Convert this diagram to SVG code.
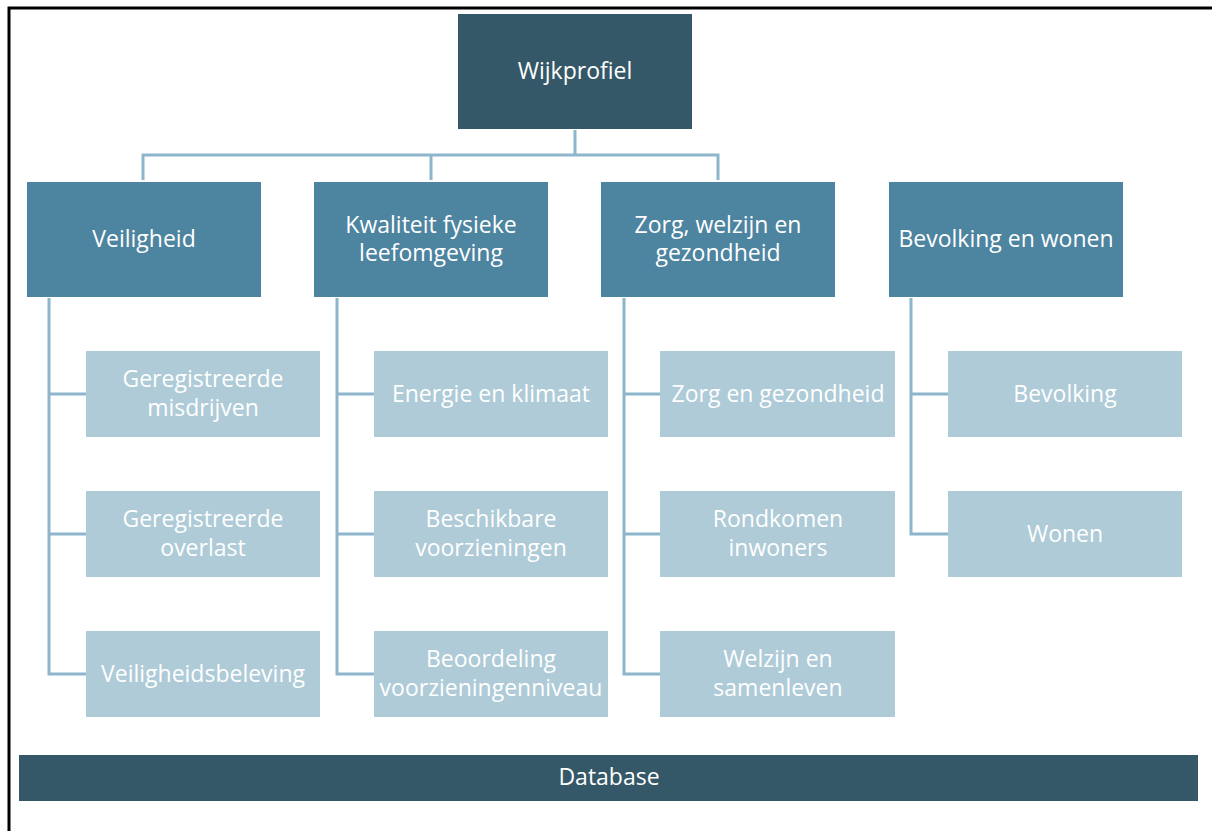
<svg xmlns="http://www.w3.org/2000/svg" width="1212" height="831" viewBox="0 0 1212 831">
<style>
text{font-family:"Open Sans","Liberation Sans",sans-serif;font-size:23px;fill:#fff;text-anchor:middle}
.top{fill:#345868}
.l2{fill:#4D84A0}
.l3{fill:#AECBD7}
.c{fill:none;stroke:#8DB5CB;stroke-width:3}
</style>
<rect width="1212" height="831" fill="#fff"/>
<path d="M9 831V8H1212" fill="none" stroke="#000" stroke-width="3"/>
<g id="connectors" class="c">
<path d="M575 130V155M143 180V155H718V180M431 155V180"/>
<path d="M49 298V674H86M49 394H86M49 534H86"/>
<path d="M337 298V674H374M337 394H374M337 534H374"/>
<path d="M624 298V674H660M624 394H660M624 534H660"/>
<path d="M911 298V534H948M911 394H948"/>
</g>
<g id="wijkprofiel"><rect class="top" x="458" y="14" width="234" height="115"/><text x="575" y="79">Wijkprofiel</text></g>
<g id="veiligheid"><rect class="l2" x="27" y="182" width="234" height="115"/><text x="144" y="247">Veiligheid</text></g>
<g id="kwaliteit"><rect class="l2" x="314" y="182" width="234" height="115"/><text x="431" y="233">Kwaliteit fysieke</text><text x="431" y="261">leefomgeving</text></g>
<g id="zorg"><rect class="l2" x="601" y="182" width="234" height="115"/><text x="718" y="233">Zorg, welzijn en</text><text x="718" y="261">gezondheid</text></g>
<g id="bevolking-wonen"><rect class="l2" x="889" y="182" width="234" height="115"/><text x="1006" y="247">Bevolking en wonen</text></g>
<g id="misdrijven"><rect class="l3" x="86" y="351" width="234" height="86"/><text x="203" y="387">Geregistreerde</text><text x="203" y="416">misdrijven</text></g>
<g id="overlast"><rect class="l3" x="86" y="491" width="234" height="86"/><text x="203" y="527">Geregistreerde</text><text x="203" y="556">overlast</text></g>
<g id="veiligheidsbeleving"><rect class="l3" x="86" y="631" width="234" height="86"/><text x="203" y="682">Veiligheidsbeleving</text></g>
<g id="energie"><rect class="l3" x="374" y="351" width="234" height="86"/><text x="491" y="402">Energie en klimaat</text></g>
<g id="voorzieningen"><rect class="l3" x="374" y="491" width="234" height="86"/><text x="491" y="527">Beschikbare</text><text x="491" y="556">voorzieningen</text></g>
<g id="beoordeling"><rect class="l3" x="374" y="631" width="234" height="86"/><text x="491" y="667">Beoordeling</text><text x="491" y="696">voorzieningenniveau</text></g>
<g id="zorg-gezondheid"><rect class="l3" x="660" y="351" width="235" height="86"/><text x="778" y="402">Zorg en gezondheid</text></g>
<g id="rondkomen"><rect class="l3" x="660" y="491" width="235" height="86"/><text x="778" y="527">Rondkomen</text><text x="778" y="556">inwoners</text></g>
<g id="welzijn"><rect class="l3" x="660" y="631" width="235" height="86"/><text x="778" y="667">Welzijn en</text><text x="778" y="696">samenleven</text></g>
<g id="bevolking"><rect class="l3" x="948" y="351" width="234" height="86"/><text x="1065" y="402">Bevolking</text></g>
<g id="wonen"><rect class="l3" x="948" y="491" width="234" height="86"/><text x="1065" y="542">Wonen</text></g>
<g id="database"><rect class="top" x="19" y="755" width="1179" height="46"/><text x="609" y="785">Database</text></g>
</svg>
